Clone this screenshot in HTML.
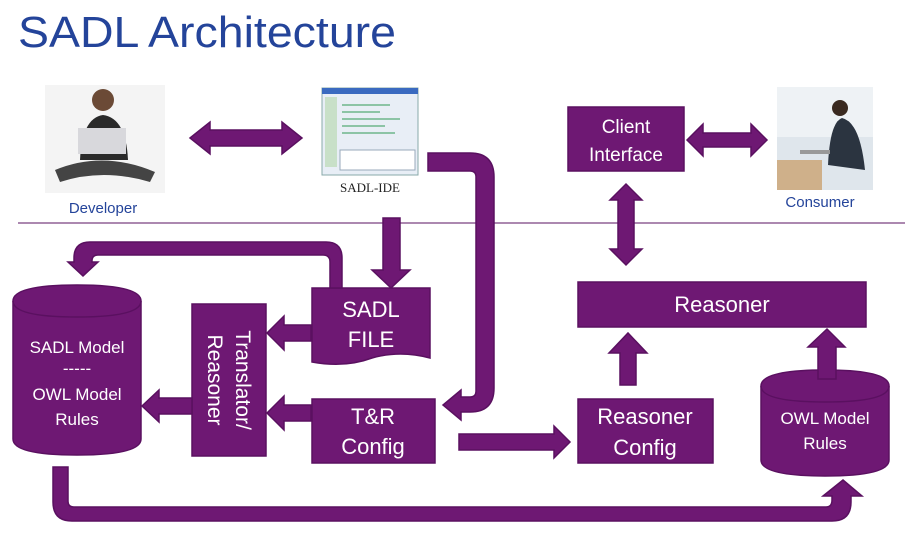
<!DOCTYPE html>
<html><head><meta charset="utf-8"><style>
html,body{margin:0;padding:0;background:#fff;}
svg{display:block;}
text{font-family:"Liberation Sans","DejaVu Sans",sans-serif;}
</style></head><body>
<svg width="905" height="542" viewBox="0 0 905 542" xmlns="http://www.w3.org/2000/svg">
<defs>
<style>.p{fill:#6e1873;stroke:#5a1060;stroke-width:1.5}.w{fill:#fff;font-size:19px;text-anchor:middle}</style>
</defs>
<text x="18" y="47" font-size="44" fill="#24449a" textLength="378" lengthAdjust="spacingAndGlyphs">SADL Architecture</text>
<line x1="18" y1="223" x2="905" y2="223" stroke="#5a1060" stroke-width="1"/>

<!-- developer image -->
<rect x="45" y="85" width="120" height="108" fill="#f4f4f4"/>
<circle cx="103" cy="100" r="11" fill="#6b4a36"/>
<path d="M80 160 Q82 118 103 115 Q126 118 128 160 Z" fill="#2a2a2a"/>
<rect x="78" y="128" width="48" height="26" fill="#d8d8dc"/>
<path d="M55 170 Q103 150 155 172 L150 182 Q103 168 60 182 Z" fill="#444"/>
<text x="103" y="213" font-size="15" fill="#24449a" text-anchor="middle">Developer</text>

<path class="p" d="M190 138 L210 122 L210 130 L282 130 L282 122 L302 138 L282 154 L282 146 L210 146 L210 154 Z"/>

<!-- IDE image -->
<rect x="322" y="88" width="96" height="87" fill="#e8eef6" stroke="#8aa" stroke-width="1"/>
<rect x="322" y="88" width="96" height="6" fill="#3a6ac0"/>
<rect x="325" y="97" width="12" height="70" fill="#c8e0c8"/>
<g stroke="#5a7" stroke-width="1.2"><line x1="342" y1="105" x2="390" y2="105"/><line x1="342" y1="112" x2="380" y2="112"/><line x1="342" y1="119" x2="400" y2="119"/><line x1="342" y1="126" x2="385" y2="126"/><line x1="342" y1="133" x2="395" y2="133"/></g>
<rect x="340" y="150" width="75" height="20" fill="#fff" stroke="#9ab"/>
<text x="370" y="192" font-size="13" fill="#222" text-anchor="middle" style="font-family:'Liberation Serif',serif">SADL-IDE</text>

<path class="p" d="M428 153 L470 153 Q494 153 494 177 L494 388 Q494 412 470 412 L461 412 L461 420 L443 405 L461 390 L461 397 L470 397 Q476 397 476 391 L476 177 Q476 171 470 171 L428 171 Z"/>

<path class="p" d="M383 218 L400 218 L400 270 L410 270 L391 288 L372 270 L383 270 Z"/>

<path class="p" d="M312 288 L430 288 L430 358 Q400 350 372 358 Q345 368 312 362 Z"/>
<text class="w" x="371" y="317" style="font-size:22px">SADL</text>
<text class="w" x="371" y="347" style="font-size:22px">FILE</text>

<path class="p" d="M342 288 L330 288 L330 262 Q330 255 323 255 L98 255 Q92 255 92 261 L92 262 L98 262 L83 276 L68 262 L74 262 L74 258 Q74 242 90 242 L326 242 Q342 242 342 258 Z"/>

<path class="p" d="M13 301 Q13 285 77 285 Q141 285 141 301 L141 439 Q141 455 77 455 Q13 455 13 439 Z"/>
<path d="M13 301 Q13 317 77 317 Q141 317 141 301" fill="none" stroke="#5a1060" stroke-width="1.5"/>
<g fill="#fff" text-anchor="middle" font-size="17">
<text x="77" y="353">SADL Model</text><text x="77" y="374">-----</text><text x="77" y="400">OWL Model</text><text x="77" y="425">Rules</text></g>

<rect class="p" x="192" y="304" width="74" height="152"/>
<text x="0" y="0" fill="#fff" font-size="21" text-anchor="middle" transform="translate(236,380) rotate(90)">Translator/</text>
<text x="0" y="0" fill="#fff" font-size="21" text-anchor="middle" transform="translate(208,380) rotate(90)">Reasoner</text>

<path class="p" d="M311 325 L284 325 L284 316 L267 333 L284 350 L284 341 L311 341 Z"/>
<path class="p" d="M311 405 L284 405 L284 396 L267 413 L284 430 L284 421 L311 421 Z"/>
<path class="p" d="M192 398 L159 398 L159 390 L142 406 L159 422 L159 414 L192 414 Z"/>

<rect class="p" x="312" y="399" width="123" height="64"/>
<text class="w" x="373" y="424" style="font-size:22px">T&amp;R</text>
<text class="w" x="373" y="454" style="font-size:22px">Config</text>

<path class="p" d="M459 434 L554 434 L554 426 L570 442 L554 458 L554 450 L459 450 Z"/>

<rect class="p" x="578" y="399" width="135" height="64"/>
<text class="w" x="645" y="424" style="font-size:22px">Reasoner</text>
<text class="w" x="645" y="455" style="font-size:22px">Config</text>

<path class="p" d="M620 385 L636 385 L636 353 L647 353 L628 333 L609 353 L620 353 Z"/>

<rect class="p" x="578" y="282" width="288" height="45"/>
<text class="w" x="722" y="312" style="font-size:22px">Reasoner</text>

<path class="p" d="M761 386 Q761 370 825 370 Q889 370 889 386 L889 460 Q889 476 825 476 Q761 476 761 460 Z"/>
<path d="M761 386 Q761 402 825 402 Q889 402 889 386" fill="none" stroke="#5a1060" stroke-width="1.5"/>
<text class="w" x="825" y="424" style="font-size:17px">OWL Model</text>
<text class="w" x="825" y="449" style="font-size:17px">Rules</text>

<path class="p" d="M818 379 L836 379 L836 347 L845 347 L827 329 L808 347 L818 347 Z"/>

<rect class="p" x="568" y="107" width="116" height="64"/>
<text class="w" x="626" y="133" style="font-size:19px">Client</text>
<text class="w" x="626" y="161" style="font-size:19px">Interface</text>

<path class="p" d="M687 140 L703 124 L703 133 L751 133 L751 124 L767 140 L751 156 L751 147 L703 147 L703 156 Z"/>

<path class="p" d="M626 184 L642 200 L634 200 L634 249 L642 249 L626 265 L610 249 L618 249 L618 200 L610 200 Z"/>

<rect x="777" y="87" width="96" height="103" fill="#dfe6ec"/>
<rect x="777" y="87" width="96" height="50" fill="#eef2f5"/>
<rect x="777" y="160" width="45" height="30" fill="#cfb08a"/>
<circle cx="840" cy="108" r="8" fill="#3a2a20"/>
<path d="M828 165 Q830 122 842 118 Q860 122 865 170 Z" fill="#2b3440"/>
<rect x="800" y="150" width="30" height="4" fill="#999"/>
<text x="820" y="207" font-size="15" fill="#24449a" text-anchor="middle">Consumer</text>

<path class="p" d="M53 467 L68 467 L68 501 Q68 507 74 507 L826 507 Q832 507 832 500 L832 496 L823 496 L843 480 L862 496 L851 496 L851 502 Q851 521 832 521 L72 521 Q53 521 53 502 Z"/>
</svg>
</body></html>
